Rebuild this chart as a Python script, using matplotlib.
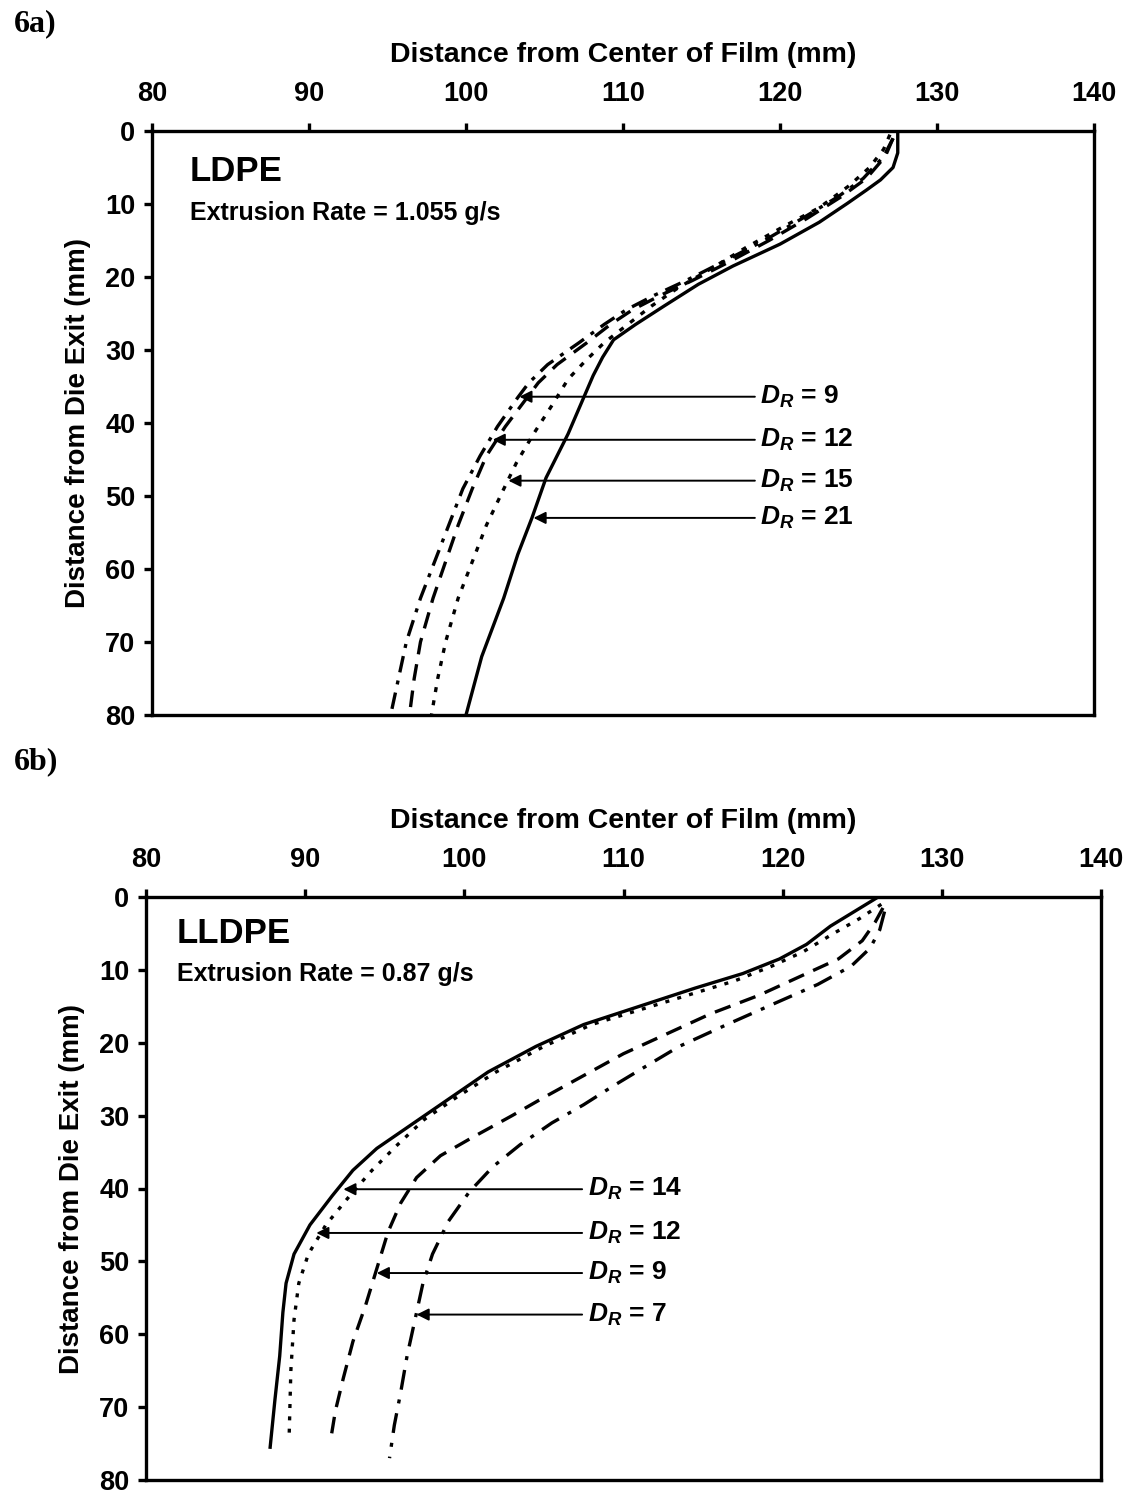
import matplotlib
matplotlib.use("Agg")
import matplotlib.pyplot as plt

plt.rcParams['font.family'] = ['Liberation Sans', 'DejaVu Sans']
plt.rcParams['mathtext.fontset'] = 'custom'
plt.rcParams['mathtext.it'] = 'Liberation Sans:bold:italic'
plt.rcParams['mathtext.rm'] = 'Liberation Sans:bold'

# ---------------- Panel 6a: LDPE ----------------
a_dr21_x = [127.5, 127.5, 127.2, 126.4, 125.5, 124.3, 122.5, 120.0, 117.0, 114.8, 112.6, 110.8, 109.4, 108.7, 108.1, 107.4, 106.5, 105.1, 104.2, 103.3, 102.4, 101.0, 100.0]
a_dr21_y = [0, 3, 5, 6.7, 8.1, 9.9, 12.5, 15.5, 18.5, 21, 24, 26.5, 28.6, 31, 33.5, 37, 41.5, 47.5, 53, 58, 64, 72, 80]

a_dr9_x = [127.2, 126.6, 125.3, 123.7, 121.4, 119.0, 116.3, 114.0, 112.0, 110.2, 108.8, 107.2, 105.2, 104.0, 103.3, 102.0, 100.9, 99.8, 98.9, 98.0, 97.1, 96.2, 95.7, 95.2]
a_dr9_y = [1, 3.5, 6.5, 9, 12, 15, 18, 20.5, 22.5, 24.5, 26.5, 29, 32, 34.5, 36.5, 40.5, 44.5, 49, 54, 59, 64, 70, 75, 80]

a_dr12_x = [127.2, 126.7, 125.5, 123.9, 121.7, 119.3, 116.7, 114.4, 112.4, 110.6, 109.2, 107.7, 105.8, 104.6, 103.9, 102.5, 101.3, 100.4, 99.5, 98.7, 97.9, 97.1, 96.7, 96.4]
a_dr12_y = [1, 3.5, 6.5, 9, 12, 15, 18, 20.5, 22.5, 24.5, 26.5, 29, 32, 34.5, 36.5, 40.5, 44.5, 49, 54, 59, 64, 70, 75, 80]

a_dr15_x = [127.0, 126.6, 125.7, 124.4, 122.5, 120.3, 117.8, 115.5, 113.5, 111.8, 110.3, 108.8, 107.6, 106.5, 105.5, 104.3, 103.2, 102.3, 101.3, 100.4, 99.5, 98.7, 98.2, 97.8]
a_dr15_y = [0.5, 2.5, 5, 7.5, 10.5, 13, 16, 19, 21.5, 24, 26.5, 29, 31.5, 34, 37.5, 41.5, 45.5, 49.5, 54, 59, 64, 70, 75, 80]

a_labels = ["9", "12", "15", "21"]
a_arrow_y = [36.4, 42.3, 47.9, 53.0]
a_arrow_tip = [103.4, 101.7, 102.7, 104.3]

# ---------------- Panel 6b: LLDPE ----------------
b_dr14_x = [126.0, 124.5, 123.0, 121.5, 119.8, 117.5, 114.5, 111.0, 107.5, 104.5, 101.5, 98.5, 96.5, 94.5, 93.0, 91.7, 90.3, 89.3, 88.8, 88.6, 88.4, 88.1, 87.8]
b_dr14_y = [0, 2, 4, 6.5, 8.5, 10.5, 12.5, 15, 17.5, 20.5, 24, 28.5, 31.5, 34.5, 37.5, 41, 45, 49, 53, 57, 63, 69, 75.5]

b_dr12_x = [126.2, 124.8, 123.2, 121.3, 119.3, 117.0, 114.0, 111.0, 108.0, 105.0, 102.0, 99.5, 97.5, 95.8, 94.2, 92.8, 91.3, 90.2, 89.6, 89.3, 89.1, 89.0]
b_dr12_y = [1, 3, 5, 7.5, 9.5, 11.5, 13.5, 15.5, 17.5, 20.5, 24, 27.5, 30.5, 34, 37.5, 41, 45, 49, 53, 58, 65, 73.5]

b_dr9_x = [126.3, 125.8, 125.0, 123.5, 121.0, 118.5, 115.5, 112.5, 110.0, 107.5, 105.0, 103.0, 100.5, 98.5, 97.0, 96.0, 95.2, 94.5, 93.8, 93.0, 92.4, 91.9, 91.6]
b_dr9_y = [1.5, 3.5, 6, 8.5, 11, 13.5, 16, 19, 21.5, 24.5, 27.5, 30, 33, 35.5, 38.5, 42, 46, 51, 56, 61, 66, 70.5, 74.5]

b_dr7_x = [126.4, 126.1, 125.5, 124.3, 122.2, 119.6, 116.5, 113.5, 111.2, 109.3, 107.5, 105.5, 103.5, 101.8, 100.3, 99.0, 98.0, 97.4, 96.9, 96.4, 96.0, 95.6, 95.3]
b_dr7_y = [2, 4.5, 7, 9.5, 12, 14.5, 17.5, 20.5, 23.5, 26, 28.5, 31, 34, 37, 40.5, 44.5, 49, 53, 58, 63, 68, 72.5, 77]

b_labels = ["14", "12", "9", "7"]
b_arrow_y = [40.1, 46.1, 51.6, 57.3]
b_arrow_tip = [92.4, 90.7, 94.5, 97.0]

x_ticks = [80, 90, 100, 110, 120, 130, 140]
y_ticks = [0, 10, 20, 30, 40, 50, 60, 70, 80]

fig = plt.figure(figsize=(11.25, 14.94), dpi=100)
W, H = 1125, 1494


def make_axes(left, right, top, bottom):
    ax = fig.add_axes([left / W, 1 - bottom / H, (right - left) / W, (bottom - top) / H])
    ax.set_xlim(80, 140)
    ax.set_ylim(80, 0)
    ax.xaxis.tick_top()
    ax.xaxis.set_label_position('top')
    ax.set_xticks(x_ticks)
    ax.set_yticks(y_ticks)
    for s in ax.spines.values():
        s.set_linewidth(2.4)
    ax.tick_params(axis='both', direction='out', length=6, width=2.4,
                   labelsize=19.5)
    ax.tick_params(axis='x', pad=11)
    ax.tick_params(axis='y', pad=6)
    for lab in ax.get_xticklabels() + ax.get_yticklabels():
        lab.set_fontweight('bold')
    ax.set_xlabel("Distance from Center of Film (mm)", fontsize=20.5,
                  fontweight='bold', labelpad=14)
    ax.set_ylabel("Distance from Die Exit (mm)", fontsize=20,
                  fontweight='bold', labelpad=10)
    return ax


def arrows(ax, labels, ys, tips, tail_x, text_x):
    for lab, y, tip in zip(labels, ys, tips):
        ax.annotate('', xy=(tip, y), xytext=(tail_x, y),
                    arrowprops=dict(arrowstyle='-|>', lw=1.4, color='black',
                                    mutation_scale=18, shrinkA=0, shrinkB=0))
        ax.text(text_x, y, r"$D_R$" + " = " + lab, fontsize=19,
                fontweight='bold', va='center', ha='left')


lw = 2.4
# Panel a
ax1 = make_axes(152, 1094, 131, 715)
ax1.plot(a_dr21_x, a_dr21_y, color='black', lw=lw, linestyle='-')
ax1.plot(a_dr9_x, a_dr9_y, color='black', lw=lw, linestyle=(0, (5, 2.5, 1.2, 2.5)))
ax1.plot(a_dr12_x, a_dr12_y, color='black', lw=lw, linestyle=(0, (5, 3)))
ax1.plot(a_dr15_x, a_dr15_y, color='black', lw=lw, linestyle=(0, (1.5, 2.5)))
ax1.text(82.4, 5.6, "LDPE", fontsize=25, fontweight='bold', va='center', ha='left')
ax1.text(82.4, 11.2, "Extrusion Rate = 1.055 g/s", fontsize=18,
         fontweight='bold', va='center', ha='left')
arrows(ax1, a_labels, a_arrow_y, a_arrow_tip, 118.4, 118.7)

# Panel b
ax2 = make_axes(146, 1101, 897, 1480)
ax2.plot(b_dr14_x, b_dr14_y, color='black', lw=lw, linestyle='-')
ax2.plot(b_dr12_x, b_dr12_y, color='black', lw=lw, linestyle=(0, (1.2, 2.5)))
ax2.plot(b_dr9_x, b_dr9_y, color='black', lw=lw, linestyle=(0, (5, 3)))
ax2.plot(b_dr7_x, b_dr7_y, color='black', lw=lw, linestyle=(0, (6, 3, 1.2, 3)))
ax2.text(81.95, 5.0, "LLDPE", fontsize=25, fontweight='bold', va='center', ha='left')
ax2.text(81.95, 10.6, "Extrusion Rate = 0.87 g/s", fontsize=18,
         fontweight='bold', va='center', ha='left')
arrows(ax2, b_labels, b_arrow_y, b_arrow_tip, 107.4, 107.8)

fig.text(14 / W, 1 - 24 / H, "6a)", fontsize=23, fontweight='bold',
         family=['Liberation Serif', 'DejaVu Serif'], va='center', ha='left')
fig.text(14 / W, 1 - 762 / H, "6b)", fontsize=23, fontweight='bold',
         family=['Liberation Serif', 'DejaVu Serif'], va='center', ha='left')

fig.savefig("out.png", dpi=100, facecolor='white')
